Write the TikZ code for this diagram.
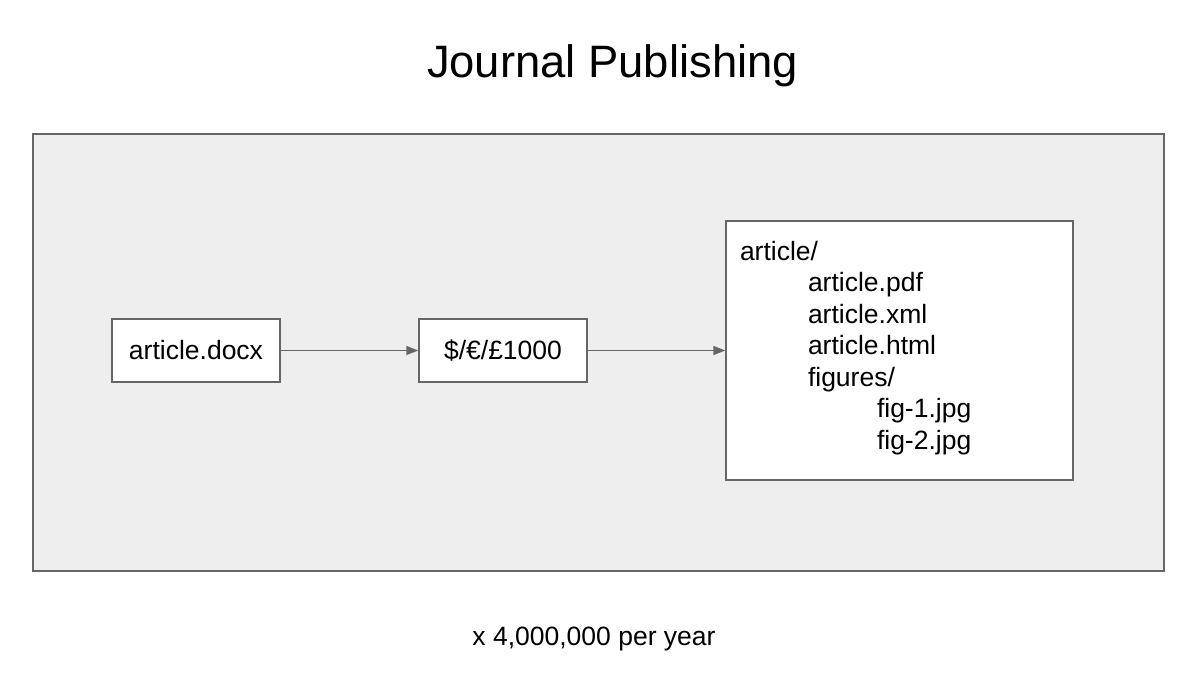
\documentclass[tikz,border=0pt]{standalone}
\usepackage{fontspec}
\setmainfont{Liberation Sans}
\usetikzlibrary{arrows.meta, positioning}

\definecolor{linegray}{HTML}{666666}
\definecolor{panelgray}{HTML}{EEEEEE}

\begin{document}
\begin{tikzpicture}[
        x=0.5pt, y=-0.5pt,
        every node/.style={font=\fontsize{13.25pt}{15.75pt}\selectfont},
        panel/.style={rectangle, draw=linegray, line width=0.75pt, fill=panelgray, minimum width=565.5pt, minimum height=218.5pt},
        box/.style={rectangle, draw=linegray, line width=0.75pt, fill=white, minimum width=84pt, minimum height=31.5pt},
        arrow/.style={-{Triangle[length=6pt, width=4.5pt]}, line width=0.75pt, draw=linegray}
    ]
    \useasboundingbox (0,0) rectangle (1200,692);

    % Title and background
    \node[anchor=base, font=\fontsize{22.7pt}{27pt}\selectfont] (title) at (612.5,77) {Journal Publishing};
    \node[panel] (panel) at (598.5,352.5) {};

    % Nodes
    \node[box] (docx) at (196,350.5) {article.docx};
    \node[box, right=68.75pt of docx] (fee) {\$/€/£1000};
    \node[box, right=68.75pt of fee, inner xsep=7pt, inner ysep=0pt] (files) {%
        \parbox[c][129.5pt][t]{159.5pt}{\fontsize{13.25pt}{15.75pt}\selectfont
            \rule{0pt}{19.5pt}article/\\
            \hspace*{34pt}article.pdf\\
            \hspace*{34pt}article.xml\\
            \hspace*{34pt}article.html\\
            \hspace*{34pt}figures/\\
            \hspace*{68.5pt}fig-1.jpg\\
            \hspace*{68.5pt}fig-2.jpg}};
    \node[anchor=base] (count) at (594,645) {x 4,000,000 per year};

    % Arrows
    \draw[arrow] (docx) -- (fee);
    \draw[arrow] (fee) -- (files);

\end{tikzpicture}
\end{document}
